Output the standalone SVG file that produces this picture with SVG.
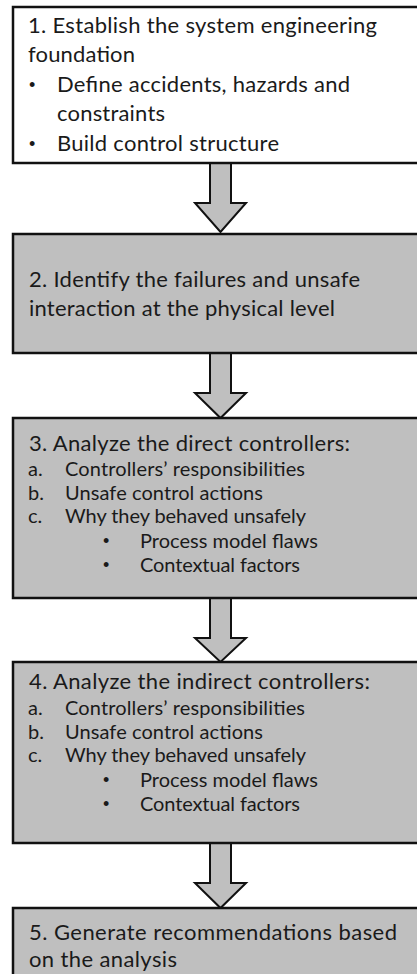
<svg xmlns="http://www.w3.org/2000/svg" width="417" height="974" viewBox="0 0 417 974">
  <style>
    .box { stroke: #111; stroke-width: 2.5; }
    .white { fill: #ffffff; }
    .grey { fill: #bfbfbf; }
    .arrow { fill: #bfbfbf; stroke: #111; stroke-width: 2; stroke-linejoin: miter; }
    text { font-family: "Lato", "Open Sans", sans-serif; fill: #1a1a1a; }
    .big { font-size: 22px; }
    .small { font-size: 20px; }
    .dot { font-family: "Liberation Sans", sans-serif; font-size: 18px; }
  </style>
  <rect x="0" y="0" width="417" height="974" fill="#ffffff"/>

  <!-- block arrows between the steps -->
  <g id="connectors">
    <path class="arrow" d="M 210 162 L 231 162 L 231 203 L 246 203 L 220.5 232 L 195 203 L 210 203 Z"/>
    <path class="arrow" d="M 210 352 L 231 352 L 231 393 L 246 393 L 220.5 418 L 195 393 L 210 393 Z"/>
    <path class="arrow" d="M 210 597 L 231 597 L 231 638 L 246 638 L 220.5 662 L 195 638 L 210 638 Z"/>
    <path class="arrow" d="M 210 842 L 231 842 L 231 883 L 246 883 L 220.5 908 L 195 883 L 210 883 Z"/>
  </g>

  <g id="step1">
    <rect class="box white" x="13" y="7" width="420" height="156"/>
    <text class="big" x="28" y="33" textLength="349">1. Establish the system engineering</text>
    <text class="big" x="28" y="62" textLength="107">foundation</text>
    <text class="dot" x="29" y="91">•</text>
    <text class="big" x="57" y="92" textLength="293">Define accidents, hazards and</text>
    <text class="big" x="57" y="121" textLength="108">constraints</text>
    <text class="dot" x="29" y="150">•</text>
    <text class="big" x="57" y="151" textLength="222">Build control structure</text>
  </g>

  <g id="step2">
    <rect class="box grey" x="13" y="234" width="420" height="119"/>
    <text class="big" x="29" y="287" textLength="331">2. Identify the failures and unsafe</text>
    <text class="big" x="29" y="316" textLength="306">interaction at the physical level</text>
  </g>

  <g id="step3">
    <rect class="box grey" x="13" y="418" width="420" height="180"/>
    <text class="big" x="29" y="451" textLength="321">3. Analyze the direct controllers:</text>
    <text class="small" x="28" y="476">a.</text>
    <text class="small" x="65" y="476" textLength="240">Controllers’ responsibilities</text>
    <text class="small" x="28" y="500">b.</text>
    <text class="small" x="65" y="500" textLength="198">Unsafe control actions</text>
    <text class="small" x="28" y="523">c.</text>
    <text class="small" x="65" y="523" textLength="241">Why they behaved unsafely</text>
    <text class="dot" x="103" y="547">•</text>
    <text class="small" x="140" y="548" textLength="178">Process model flaws</text>
    <text class="dot" x="103" y="571">•</text>
    <text class="small" x="140" y="572" textLength="160">Contextual factors</text>
  </g>

  <g id="step4">
    <rect class="box grey" x="13" y="662" width="420" height="181"/>
    <text class="big" x="29" y="689" textLength="341">4. Analyze the indirect controllers:</text>
    <text class="small" x="28" y="715">a.</text>
    <text class="small" x="65" y="715" textLength="240">Controllers’ responsibilities</text>
    <text class="small" x="28" y="739">b.</text>
    <text class="small" x="65" y="739" textLength="198">Unsafe control actions</text>
    <text class="small" x="28" y="762">c.</text>
    <text class="small" x="65" y="762" textLength="241">Why they behaved unsafely</text>
    <text class="dot" x="103" y="786">•</text>
    <text class="small" x="140" y="787" textLength="178">Process model flaws</text>
    <text class="dot" x="103" y="810">•</text>
    <text class="small" x="140" y="811" textLength="160">Contextual factors</text>
  </g>

  <g id="step5">
    <rect class="box grey" x="13" y="908" width="420" height="80"/>
    <text class="big" x="29" y="940" textLength="368">5. Generate recommendations based</text>
    <text class="big" x="29" y="967" textLength="148">on the analysis</text>
  </g>
</svg>
